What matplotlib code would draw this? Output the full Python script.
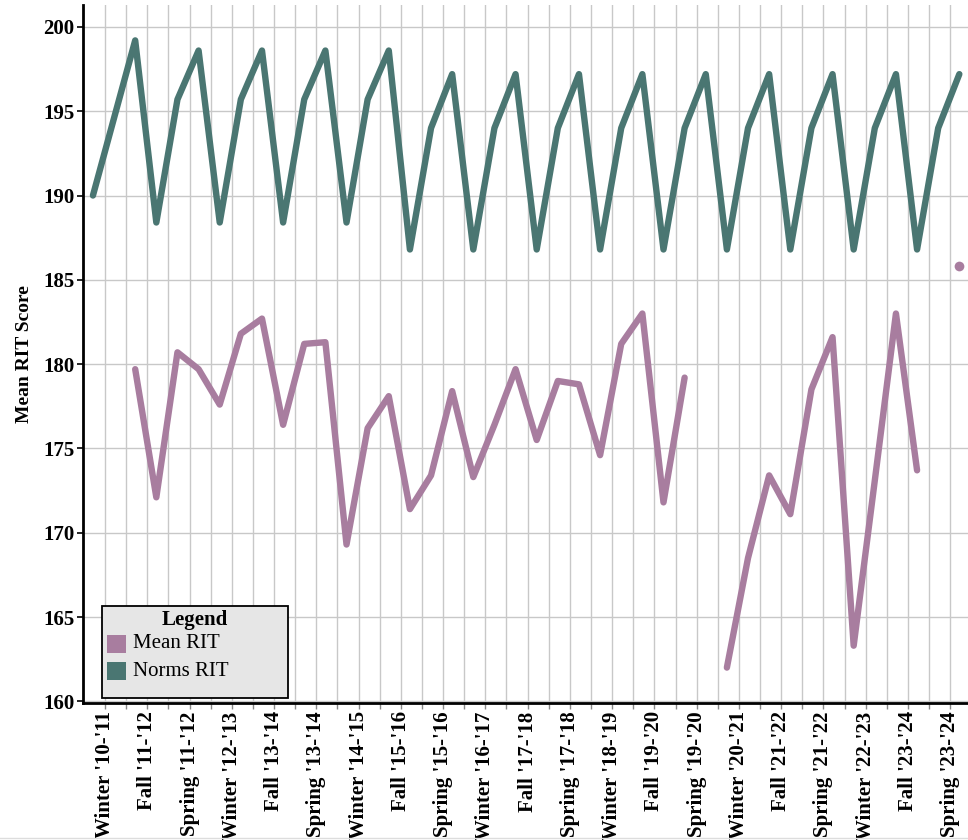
import numpy as np
import matplotlib
matplotlib.use("Agg")
import matplotlib.pyplot as plt
from matplotlib.patches import Rectangle
from matplotlib.lines import Line2D

plt.rcParams['font.family'] = ['Liberation Serif', 'DejaVu Serif']

# school years and terms (Fall, Winter, Spring of each year)
years = ["'10-'11", "'11-'12", "'12-'13", "'13-'14", "'14-'15", "'15-'16", "'16-'17",
         "'17-'18", "'18-'19", "'19-'20", "'20-'21", "'21-'22", "'22-'23", "'23-'24"]
seasons = ["Fall", "Winter", "Spring"]
terms = [s + " " + y for y in years for s in seasons]

nan = np.nan
mean_rit = [nan, nan, 179.7, 172.1, 180.7, 179.7, 177.6, 181.8, 182.7, 176.4,
            181.2, 181.3, 169.3, 176.2, 178.1, 171.4, 173.4, 178.4, 173.3, 176.4,
            179.7, 175.5, 179.0, 178.8, 174.6, 181.2, 183.0, 171.8, 179.2, nan,
            162.0, 168.5, 173.4, 171.1, 178.5, 181.6, 163.3, 173.1, 183.0, 173.7,
            nan, 185.8]
norms_rit = [190.0, 194.6, 199.2, 188.4, 195.7, 198.6, 188.4, 195.7, 198.6, 188.4,
             195.7, 198.6, 188.4, 195.7, 198.6, 186.8, 194.0, 197.2, 186.8, 194.0,
             197.2, 186.8, 194.0, 197.2, 186.8, 194.0, 197.2, 186.8, 194.0, 197.2,
             186.8, 194.0, 197.2, 186.8, 194.0, 197.2, 186.8, 194.0, 197.2, 186.8,
             194.0, 197.2]

mean_color = '#a87d9f'
norms_color = '#4a7672'
grid_color = '#c8c8c8'

W, H = 968, 840
fig = plt.figure(figsize=(W / 100, H / 100), dpi=100)
ax = fig.add_axes([83 / W, 1 - 703 / H, 885 / W, 698 / H])

x = np.arange(len(terms))
ax.plot(x, norms_rit, color=norms_color, lw=4.6, solid_capstyle='round',
        solid_joinstyle='round', zorder=3)
ax.plot(x, mean_rit, color=mean_color, lw=4.6, solid_capstyle='round',
        solid_joinstyle='round', zorder=3)

# points with no neighbours are drawn as dots
m = np.array(mean_rit)
for i in range(len(m)):
    if np.isnan(m[i]):
        continue
    left = i == 0 or np.isnan(m[i - 1])
    right = i == len(m) - 1 or np.isnan(m[i + 1])
    if left and right:
        ax.plot([x[i]], [m[i]], 'o', color=mean_color, ms=7, mec='none', zorder=4)

ax.set_xlim(-0.47, 41.41)
ax.set_ylim(159.9, 201.3)

tick_pos = x[1:] - 0.43
tick_labels = [t if k % 2 == 0 else '' for k, t in enumerate(terms[1:])]
ax.set_xticks(tick_pos)
ax.set_xticklabels(tick_labels, rotation=90, fontsize=15, fontweight='bold')
ax.set_yticks(np.arange(160, 201, 5))
ax.set_yticklabels([str(v) for v in range(160, 201, 5)], fontsize=15, fontweight='bold')

ax.tick_params(axis='x', length=4, width=1, color='#888888', pad=2)
ax.tick_params(axis='y', length=4.3, width=1.2, color='black', pad=2)

ax.grid(True, color=grid_color, lw=1.0)
ax.set_axisbelow(True)

for s in ['top', 'right']:
    ax.spines[s].set_visible(False)
ax.spines['left'].set_linewidth(2)
ax.spines['bottom'].set_linewidth(2)

ax.set_ylabel('Mean RIT Score', fontsize=14, fontweight='bold', labelpad=7)


def fx(px):
    return px / W


def fy(py):
    return 1 - py / H


# legend box
fig.add_artist(Rectangle((fx(102), fy(698)), fx(288) - fx(102), fy(606) - fy(698),
                         transform=fig.transFigure, facecolor='#e6e6e6',
                         edgecolor='black', lw=1.3, zorder=10))
fig.text(fx(195), fy(620), 'Legend', ha='center', va='center', fontsize=15,
         fontweight='bold', zorder=11)
for row, (label, col) in enumerate([('Mean RIT', mean_color), ('Norms RIT', norms_color)]):
    yc = 644 + row * 27
    fig.add_artist(Rectangle((fx(107), fy(yc + 9)), fx(126) - fx(107), fy(yc - 9) - fy(yc + 9),
                             transform=fig.transFigure, facecolor=col,
                             edgecolor='none', zorder=11))
    fig.text(fx(133), fy(yc), label, ha='left', va='center', fontsize=15, zorder=11)

fig.add_artist(Line2D([0, 1], [fy(838), fy(838)], transform=fig.transFigure,
                      color='#dddddd', lw=1))

fig.savefig('out.png', dpi=100)
